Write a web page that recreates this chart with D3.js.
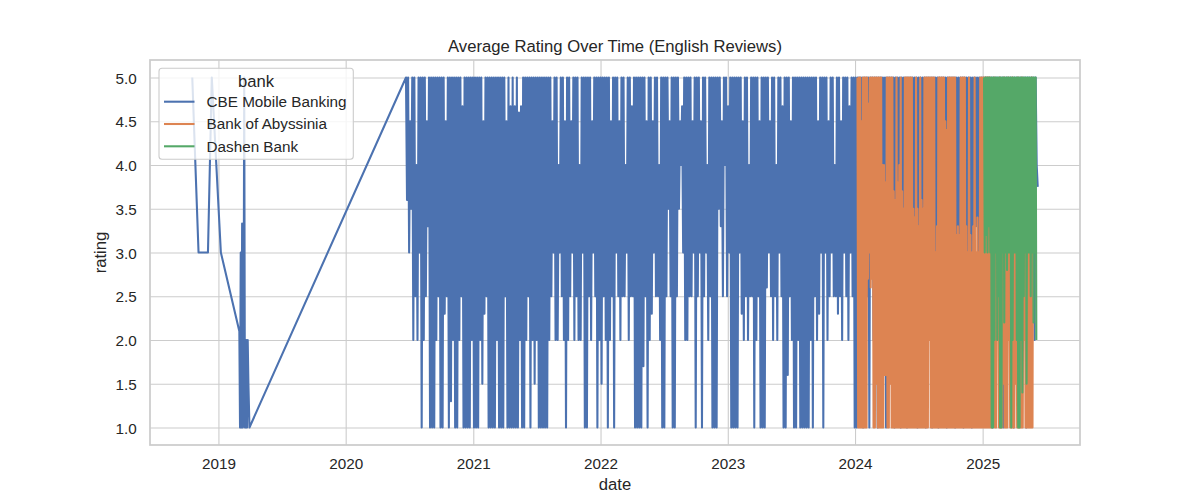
<!DOCTYPE html>
<html><head><meta charset="utf-8">
<script src="https://cdn.jsdelivr.net/npm/d3@7"></script>
<style>
body{margin:0;background:#fff}
text{font-family:"Liberation Sans",Arial,"DejaVu Sans",sans-serif;fill:#262626}
</style>
</head><body>
<svg id="chart" width="1200" height="500"></svg>
<script>
const banks = ["CBE Mobile Banking", "Bank of Abyssinia", "Dashen Bank"];
const bankColors = ["#4c72b0", "#dd8452", "#55a868"];
const yTickValues = [1.0, 1.5, 2.0, 2.5, 3.0, 3.5, 4.0, 4.5, 5.0];
const xTickYears = [2019, 2020, 2021, 2022, 2023, 2024, 2025];

// CBE: sparse early reviews
const cbeEarlyDates = ["2018-10-18","2018-11-05","2018-12-02","2018-12-13","2019-01-08",
  "2019-03-02","2019-03-04","2019-03-06","2019-03-08","2019-03-10","2019-03-12","2019-03-14",
  "2019-03-16","2019-03-18","2019-03-20","2019-03-22","2019-03-24","2019-03-26","2019-03-28","2019-03-31"];
const cbeEarlyRatings = [5, 3, 3, 5, 3, 2.1, 1, 3, 1, 3.33, 1, 1.5, 5, 1, 1, 2, 1, 2, 1.5, 1];

// CBE: dense period (one reading every 3 days from start)
const cbeStart = "2020-06-22", cbeStepDays = 3;
const cbeRatings = [
5,
3.6,5, 3,4.5, 3.5,5, 2,5, 2.5,4, 2,5, 3,5,
1,5,
2,5, 2.5,4.5, 3.3,5,
1,5, 1,5, 1,5,
2,5, 2.5,5,
1,5, 1,5,
2.3,4.5, 2.5,5,
1,5,
1.3,5, 2,5,
1,5, 1,5,
2,5, 2.5,4.67,
1,5, 1,5, 1,5, 1,5,
2,5,
1,5, 1,5, 1,5,
2,5, 1.5,4.5, 2.3,5, 2.5,5, 1,5,
1,5, 1,5, 1,5,
2,5,
1,5, 1,5, 1,5,
2.5,4.5,
1,5, 1,4.67, 1,5, 1,4.67, 1,5, 1,4.6,
2,4.67,
1,5, 1,5,
2,5, 2.5,5,
1,5,
2,5, 1.5,5, 2,5,
1,5, 1,5, 1,5, 1,5, 1,5,
2,5, 2.5,4.5, 3,5, 2,5, 2,4, 3,5, 2.5,5, 2,4.5,
1,5,
2,5, 2.5,4.5, 3,5, 2,5, 2.5,5, 2,4, 2,5, 3,5,
1,5, 1,5,
2.5,5, 2,4.5, 3,5, 2.5,5,
1,5,
2,5, 1.5,5, 2.5,5, 2,5,
1,5,
2,4.5, 2.5,5,
1,5,
3,5, 2.5,4.5, 2,5, 2.5,5, 2.5,4, 3,5, 2,5, 2.5,4.67, 2.5,5,
1,5, 1,5, 1,5, 1,5,
1.7,5, 2.5,4.5,
1,5,
2,5, 2.3,4.5, 3,5, 2.5,5, 2.5,4, 2,5,
1,5, 1,5,
2.5,5, 3.5,4.5, 2.5,5,
1,5, 1,5,
2.5,5, 3.5,4.5, 4,4.67, 3,5, 2,5, 2,5, 2.5,5, 2.5,4.5, 3,5,
1,5,
2.5,5, 3,4.5,
1,5,
2.5,5, 3,4, 2,5, 2.5,5,
1,5, 1,5, 1,5,
3.5,5, 3.3,4.5, 2.5,5, 4,5, 2.5,4.67, 3,5,
1,5, 1,5, 1,5, 1,5,
3,5, 2.3,4.5, 2,5, 2.5,5, 2,4, 2.5,5, 2.5,5,
1,5,
2,5, 2.5,4.5,
1,5, 1,5, 1,5,
2.6,5, 3,4.5, 2.5,5, 2,5, 2.5,4, 2,5, 3,5, 2.5,4.67,
1,5, 1,5,
1.6,5, 2.5,4.5, 2,5,
1,5, 1,5, 2,5, 1,5, 1,5, 1,5, 1,5, 1,5, 2,5, 1,5,
2.5,5, 2,4.5, 2.3,5, 3,5,
1,5,
3,5, 2,4.5, 2.5,5, 3,5, 2.5,4, 2.5,5, 2.3,5, 2.5,4.5, 2,5, 3,5, 2.5,5, 2,4.67, 3,5, 2.5,5,
1,5, 1,5,
2,5, 3,5, 1,5, 3,5, 2.5,5, 1,5, 3,5, 2,5, 3,5, 1,5,
1.5,5, 3,5, 2,5, 1,5, 3,5, 3,5, 2,5, 1,5, 2.5,5, 3,5,
1,5, 2,5, 3,5, 1,5, 3,5, 2,5, 1.5,5, 3,5, 1,5, 2,5,
3,5, 3,5, 1,5, 2,5, 3,5, 1,5, 2.5,5, 3,5, 1,5, 2,5,
3,5, 2,5, 1,5, 3,5, 3,5, 2,5, 1,5, 3,5, 2.5,5, 3,5,
1,5, 3,5, 2,5, 3,5, 1,5, 3,5, 3.3,5, 3,5, 2,5, 3,5, 3,5,
3,5, 3.3,5, 3,5, 1,5, 3,5, 3.3,5, 2,5, 3,5, 1,5, 3,5,
3,5, 2.5,5, 3,5, 1,5, 3,5, 3.3,5, 3,5, 2,5, 3,5, 1,5,
3,5, 3.3,5, 3,5, 2,5,
4, 3.75
];

// Bank of Abyssinia (one reading every 2 days from start)
const boaStart = "2024-01-08", boaStepDays = 2;
const boaRatings = [
5,1,5,1,5,1,4.5,1,5,1,5,1,5,1,
5,2.7,4.7,3,5,2.6,5,2.7,
5,1,5,1,5,1.5,5,1,5,1,5,1,5,1,
4,1,4,1.6,3.8,1.6,
5,1,5,1,5,1.5,5,1,
5,1,3.7,1,3.6,1,5,1,3.8,1,4,1,5,1,3.7,1,3.5,1,5,1,
5,1,5,1,5,1,5,1,
5,1,3.5,1,3.4,1,5,1,3.5,1,3.3,1,5,1,3.6,1,3.5,1,5,1,
5,1,5,1,5,2,5,1,5,1,5,1,5,1,
3,1,3.3,1,
5,1,5,1,5,1,5,1,5,1,
4.5,1,4.4,1,
5,1,5,1,5,1,5,1,5,1,5,1,
3.2,1,3.3,1,3.2,1,
5,1,5,1,5,1,5,1,
3.3,1,3,1,5,1,3.2,1,3,1,3.3,1,5,1,3,1,3.4,1,3,1,
5,1,5,1,
5,1,5,1,5,1,5,1,5,1,5,1,
4,1,3.5,2,5,1,3,1,4,2.5,3.5,1,5,1,4,1,3,1.5,5,1,
4,1,3.5,1,5,2,3,1,4,1,5,1,3.5,1,4,1.5,3,1,5,1,
4,1,3.5,1,5,1,4,2,3.8,1,3,1,4,1,3.8,1,4,1,5,1,
5
];

// Dashen Bank (one reading every 2 days from start)
const dashenStart = "2025-01-05", dashenStepDays = 2;
const dashenRatings = [
5,
3,5, 3.2,5, 3,5, 3.3,5, 3,5,
1,5, 1,5,
2,5, 3,5, 2,5, 2.5,5,
1,5, 1,5,
3,5, 2.2,5, 3,5, 2.8,5, 3,5, 3,5,
1,5,
2,5, 3,5, 3,5, 2,5,
1,5, 1,5,
2,5, 1.4,5, 2.5,5,
3,5, 1.5,5, 3,5,
3,5, 2.5,5, 3,5, 2.2,5, 3,5,
2
];

// ---------- build ----------
const parse = d3.timeParse("%Y-%m-%d");
function stepped(start, step, vals) {
  const s = parse(start);
  return vals.map((v, i) => ({date: d3.timeDay.offset(s, i * step), value: v}));
}
const cbeSeries = cbeEarlyDates.map((d, i) => ({date: parse(d), value: cbeEarlyRatings[i]}))
  .concat(stepped(cbeStart, cbeStepDays, cbeRatings));
const series = [
  cbeSeries,
  stepped(boaStart, boaStepDays, boaRatings),
  stepped(dashenStart, dashenStepDays, dashenRatings)
];

const L = 150, R = 1080, T = 60, B = 445;
const svg = d3.select("#chart");

const allDates = series.flat().map(d => d.date);
const [dmin, dmax] = d3.extent(allDates);
const padMs = (dmax - dmin) * 0.05;
const x = d3.scaleTime().domain([new Date(+dmin - padMs), new Date(+dmax + padMs)]).range([L, R]);
const y = d3.scaleLinear().domain([0.8, 5.2]).range([B, T]);

// grid + ticks
const gx = svg.append("g").attr("transform", `translate(0,${B})`)
  .call(d3.axisBottom(x).tickValues(xTickYears.map(yr => new Date(yr, 0, 1)))
    .tickFormat(d3.timeFormat("%Y")).tickSize(-(B - T)).tickPadding(13.2));
const gy = svg.append("g").attr("transform", `translate(${L},0)`)
  .call(d3.axisLeft(y).tickValues(yTickValues).tickFormat(d3.format(".1f"))
    .tickSize(-(R - L)).tickPadding(13.2));
[gx, gy].forEach(g => {
  g.select(".domain").remove();
  g.selectAll(".tick line").attr("stroke", "#cccccc").attr("stroke-width", 1.1);
  g.selectAll(".tick text").style("font-size", "15.28px").attr("fill", "#262626")
    .style("font-family", '"Liberation Sans",Arial,sans-serif');
});
gy.selectAll(".tick text").attr("dy", "0.36em");

// lines
svg.append("clipPath").attr("id", "clip").append("rect")
  .attr("x", L).attr("y", T).attr("width", R - L).attr("height", B - T);
const line = d3.line().x(d => x(d.date)).y(d => y(d.value));
const gl = svg.append("g").attr("clip-path", "url(#clip)");
series.forEach((s, i) => {
  gl.append("path").datum(s).attr("d", line)
    .attr("fill", "none").attr("stroke", bankColors[i])
    .attr("stroke-width", 2.08).attr("stroke-linejoin", "round");
});

// spines
svg.append("rect").attr("x", L).attr("y", T).attr("width", R - L).attr("height", B - T)
  .attr("fill", "none").attr("stroke", "#cccccc").attr("stroke-width", 1.74);

// title + labels
svg.append("text").attr("x", (L + R) / 2).attr("y", 52).attr("text-anchor", "middle")
  .style("font-size", "16.67px").text("Average Rating Over Time (English Reviews)");
svg.append("text").attr("x", (L + R) / 2).attr("y", 490).attr("text-anchor", "middle")
  .style("font-size", "16.67px").text("date");
svg.append("text").attr("transform", `translate(105.5,${(T + B) / 2}) rotate(-90)`)
  .attr("text-anchor", "middle").style("font-size", "16.67px").text("rating");

// legend
const lg = svg.append("g");
lg.append("rect").attr("x", 159).attr("y", 68.3).attr("width", 194.3).attr("height", 91)
  .attr("rx", 3).attr("fill", "#ffffff").attr("fill-opacity", 0.8)
  .attr("stroke", "#cccccc").attr("stroke-width", 1.1);
lg.append("text").attr("x", 256).attr("y", 86.5).attr("text-anchor", "middle")
  .style("font-size", "16.67px").text("bank");
const legY = [101.7, 124, 146.3];
banks.forEach((b, i) => {
  lg.append("line").attr("x1", 164).attr("x2", 194.5).attr("y1", legY[i]).attr("y2", legY[i])
    .attr("stroke", bankColors[i]).attr("stroke-width", 2.08);
  lg.append("text").attr("x", 206.5).attr("y", legY[i] + 5.3)
    .style("font-size", "15.28px").text(b);
});
</script>
</body></html>
